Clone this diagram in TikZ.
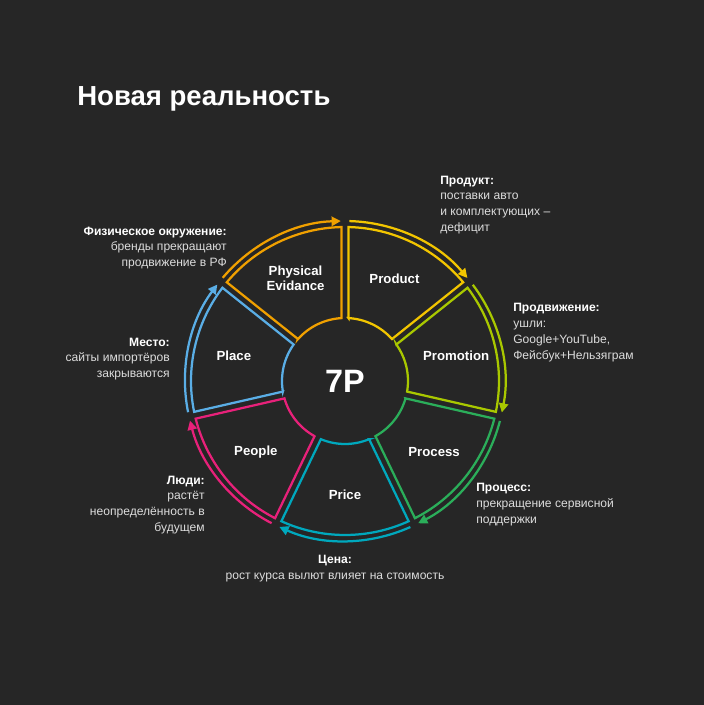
\documentclass[tikz,border=0pt]{standalone}
\usepackage{fontspec}
\setmainfont{Liberation Sans}
\usetikzlibrary{arrows.meta}

\definecolor{bgdark}{HTML}{262626}
\definecolor{notegray}{HTML}{DCDCDC}
\definecolor{cproduct}{HTML}{F2C500}
\definecolor{cpromotion}{HTML}{A9C800}
\definecolor{cprocess}{HTML}{2BAE5A}
\definecolor{cprice}{HTML}{00A8BD}
\definecolor{cpeople}{HTML}{E8217A}
\definecolor{cplace}{HTML}{5AAEE6}
\definecolor{cphysical}{HTML}{F0A000}

\newcommand{\notetitle}[1]{{\bfseries\color{white}#1}}

\begin{document}
\begin{tikzpicture}[
  ring/.style={line width=1.6pt},
  seglabel/.style={font=\fontsize{9.4}{11}\selectfont\bfseries, text=white, align=center},
  note/.style={font=\fontsize{8.6}{11.3}\selectfont, text=notegray, inner sep=0pt},
]
\fill[bgdark] (-8.625,-8.1) rectangle (8.975,9.525);
\useasboundingbox (-8.625,-8.1) rectangle (8.975,9.525);

\def\rin{1.575}
\def\rout{3.85}
\def\rarr{4.0}

% seven segments, clockwise from the top
\foreach \i/\col/\txt in {1/cproduct/Product, 2/cpromotion/Promotion,
    3/cprocess/Process, 4/cprice/Price, 5/cpeople/People,
    6/cplace/Place, 7/cphysical/{Physical\\Evidance}} {
  \pgfmathsetmacro{\a}{90-51.4286*(\i-1)}
  \pgfmathsetmacro{\b}{90-51.4286*\i}
  \draw[ring, \col] (\a-3.18:\rin) -- (\a-1.3:\rout)
    arc[start angle=\a-1.3, end angle=\b+1.3, radius=\rout]
    -- (\b+3.18:\rin)
    arc[start angle=\b+3.18, end angle=\a-3.18, radius=\rin] -- cycle;
  \draw[ring, \col, -{Triangle[length=2.3mm, width=2.3mm]}] (\a-1.6:\rarr)
    arc[start angle=\a-1.6, end angle=\b+1.5, radius=\rarr];
  \node[seglabel] (seg-\i) at ({(\a+\b)/2}:2.85) {\txt};
}
\node[font=\fontsize{23}{24}\selectfont\bfseries, text=white] (core) at (0,0) {7P};

% title
\node[font=\fontsize{19.6}{24}\selectfont\bfseries, text=white, anchor=base west, inner sep=0pt]
  (title) at (-6.7,6.9) {Новая реальность};

% notes
\node[note, anchor=west, align=left] (n-product) at (2.375,4.4)
  {\notetitle{Продукт:}\\поставки авто\\и комплектующих –\\дефицит};
\node[note, anchor=west, align=left] (n-promotion) at (4.2,1.21)
  {\notetitle{Продвижение:}\\ушли:\\Google+YouTube,\\Фейсбук+Нельзяграм};
\node[note, anchor=west, align=left] (n-process) at (3.275,-3.09)
  {\notetitle{Процесс:}\\прекращение сервисной\\поддержки};
\node[note, align=center] (n-price) at (-0.25,-4.7)
  {\notetitle{Цена:}\\рост курса вылют влияет на стоимость};
\node[note, anchor=east, align=right] (n-people) at (-3.5,-3.1)
  {\notetitle{Люди:}\\растёт\\неопределённость в\\будущем};
\node[note, anchor=east, align=right] (n-place) at (-4.375,0.55)
  {\notetitle{Место:}\\сайты импортёров\\закрываются};
\node[note, anchor=east, align=right] (n-physical) at (-2.95,3.325)
  {\notetitle{Физическое окружение:}\\бренды прекращают\\продвижение в РФ};
\end{tikzpicture}
\end{document}
